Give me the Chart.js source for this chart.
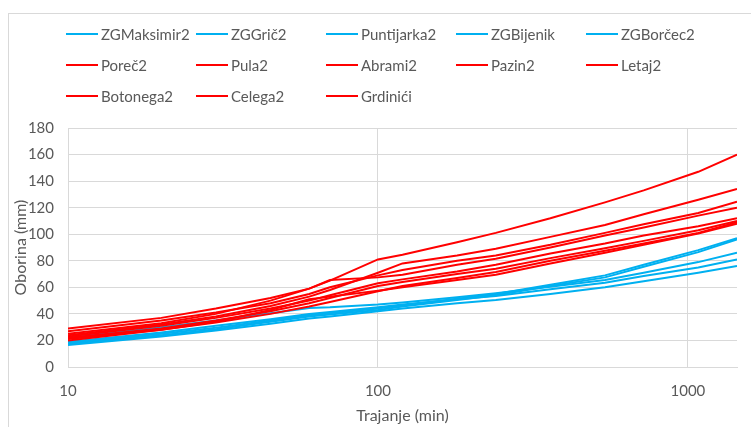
<!DOCTYPE html>
<html>
<head>
<meta charset="utf-8">
<script src="https://cdn.jsdelivr.net/npm/chart.js@4.4.0/dist/chart.umd.min.js"></script>
<style>
  html, body { margin: 0; padding: 0; background: #fff; overflow: hidden; }
  #wrap { position: relative; width: 751px; height: 427px; }
  #frame { position: absolute; left: 8px; top: 13px; width: 800px; height: 500px; border: 1px solid #d9d9d9; }
  #box { position: absolute; left: 0; top: 0; width: 751px; height: 427px; }
  #legend { position: absolute; left: 66px; top: 25px; font-family: Lato, sans-serif; font-size: 15px; color: #595959; }
  .item { position: absolute; display: flex; align-items: center; white-space: nowrap; height: 18px; }
  .swatch { width: 32px; height: 2px; margin-right: 3px; }
</style>
</head>
<body>
<div id="wrap">
  <div id="frame"></div>
  <div id="box"><canvas id="chart"></canvas></div>
  <div id="legend"></div>
</div>
<script>
const durations = [10, 20, 30, 45, 60, 70, 100, 120, 180, 240, 360, 540, 720, 1080, 1440];
const xTicks = [10, 100, 1000];

const blueNames = ["ZGMaksimir2", "ZGGrič2", "Puntijarka2", "ZGBijenik", "ZGBorčec2"];
const redNames = ["Poreč2", "Pula2", "Abrami2", "Pazin2", "Letaj2", "Botonega2", "Celega2", "Grdinići"];

// oborina (mm) po trajanju
const zgMaksimir = [22, 30, 35, 40.5, 44.5, 45, 47, 48.5, 52.5, 55.5, 60.5, 65.5, 71, 79, 86];
const zgGric = [18, 25, 29.5, 35, 39, 40.5, 44, 46.5, 51.5, 55, 62, 69, 77, 88, 97];
const puntijarka = [19, 26, 31, 36, 40, 41.5, 45, 47, 51, 53.5, 58.5, 63.5, 68.5, 75, 81];
const zgBijenik = [16.5, 23, 27.5, 32.5, 36.5, 38, 42, 44, 48, 50.5, 55, 60, 64.5, 71, 76];
const zgBorcec = [17.5, 24, 28.5, 34, 38, 39.5, 43, 45.5, 50.5, 54, 61, 67.5, 75.5, 86.5, 96];

const porec = [29, 37, 44, 52, 59, 65, 81, 84.5, 94, 101, 112, 124, 133, 147, 160];
const pula = [24, 32, 38, 46, 53, 58, 71, 78, 84, 89, 98, 107, 115, 126, 134];
const abrami = [25, 33, 40, 50, 59, 65.5, 67.5, 69.5, 77, 81.5, 90, 99, 105, 114, 120];
const pazin = [27, 35, 41, 48, 55, 60, 69, 73, 80, 84, 92, 101, 107.5, 116, 124.5];
const letaj = [23, 31, 37, 44, 50, 54, 63, 66, 72, 77, 85.5, 93, 99, 106, 112];
const botonega = [22, 29, 35, 42, 48, 52, 61, 64, 70, 74, 82, 89.5, 95, 103, 110];
const celega = [21, 28, 33.5, 40, 45.5, 49, 57, 61, 67, 71.5, 80, 87.5, 93, 101, 109];
const grdinici = [20, 28, 34, 43, 51, 53, 57.5, 60, 65.5, 69.5, 78, 86, 92, 100.5, 108];

const blueValues = [zgMaksimir, zgGric, puntijarka, zgBijenik, zgBorcec];
const redValues = [porec, pula, abrami, pazin, letaj, botonega, celega, grdinici];

const BLUE = "#00B0F0";
const RED = "#FF0000";
const FONT = "Lato";
const TEXT = "#595959";
const GRID = "#d9d9d9";

function makeSeries(name, values, color, order) {
  return {
    label: name,
    data: values.map((v, i) => ({ x: durations[i], y: v })),
    borderColor: color,
    backgroundColor: color,
    borderWidth: 2,
    pointRadius: 0,
    tension: 0,
    fill: false,
    order: order
  };
}

const datasets = [];
blueNames.forEach((n, i) => datasets.push(makeSeries(n, blueValues[i], BLUE, 1)));
redNames.forEach((n, i) => datasets.push(makeSeries(n, redValues[i], RED, 0)));

function renderLegend() {
  const legend = document.getElementById("legend");
  datasets.forEach((ds, i) => {
    const item = document.createElement("div");
    item.className = "item";
    item.style.left = (i % 5) * 130 + "px";
    item.style.top = Math.floor(i / 5) * 31 + "px";
    item.innerHTML = `<span class="swatch" style="background:${ds.borderColor}"></span><span>${ds.label}</span>`;
    legend.appendChild(item);
  });
}

new Chart(document.getElementById("chart"), {
  type: "line",
  data: { datasets: datasets },
  options: {
    responsive: true,
    maintainAspectRatio: false,
    animation: false,
    layout: { padding: { top: 128, right: 14, bottom: 0, left: 0 } },
    plugins: {
      legend: { display: false },
      tooltip: { enabled: false }
    },
    scales: {
      x: {
        type: "logarithmic",
        min: 10,
        max: 1440,
        afterBuildTicks: scale => { scale.ticks = xTicks.map(v => ({ value: v })); },
        afterFit: scale => { scale.height = 60; },
        grid: { color: GRID, drawTicks: false },
        border: { color: GRID },
        ticks: {
          padding: 15,
          color: TEXT,
          autoSkip: false,
          maxRotation: 0,
          font: { family: FONT, size: 15 },
          callback: v => String(v)
        },
        title: {
          display: true,
          text: "Trajanje (min)",
          color: TEXT,
          font: { family: FONT, size: 16 },
          padding: { top: 0, bottom: 2 }
        }
      },
      y: {
        min: 0,
        max: 180,
        afterFit: scale => { scale.width = 68; },
        grid: { color: GRID, drawTicks: false },
        border: { color: GRID },
        ticks: {
          stepSize: 20,
          padding: 14,
          color: TEXT,
          font: { family: FONT, size: 15 }
        },
        title: {
          display: true,
          text: "Oborina (mm)",
          color: TEXT,
          font: { family: FONT, size: 16 },
          padding: { top: 11, bottom: 0 }
        }
      }
    }
  }
});

renderLegend();
</script>
</body>
</html>
